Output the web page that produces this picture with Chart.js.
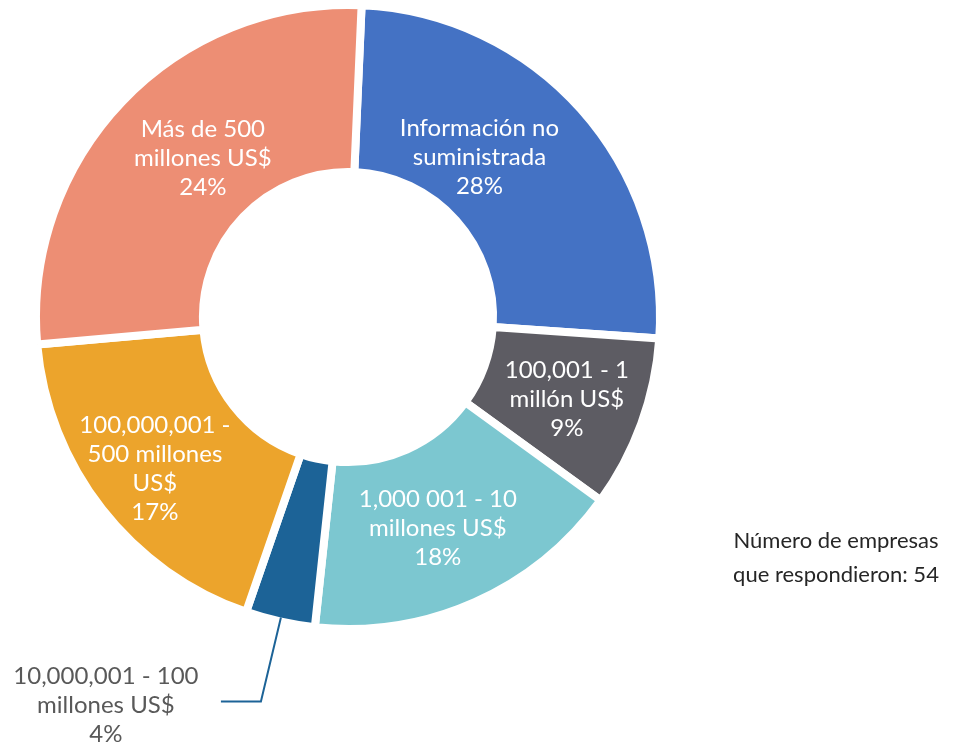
<!DOCTYPE html>
<html>
<head>
<meta charset="utf-8">
<script src="https://cdn.jsdelivr.net/npm/chart.js@4.4.1/dist/chart.umd.min.js"></script>
<style>
  html, body { margin: 0; padding: 0; background: #ffffff; overflow: hidden; }
  #wrap { position: absolute; left: 0; top: 0; width: 954px; height: 746px; }
</style>
</head>
<body>
<div id="wrap"><canvas id="chart" width="954" height="746"></canvas></div>
<script>
// ---- data ----
const categories = [
  'Información no suministrada',
  '100,001 - 1 millón US$',
  '1,000 001 - 10 millones US$',
  '10,000,001 - 100 millones US$',
  '100,000,001 - 500 millones US$',
  'Más de 500 millones US$'
];
// label text lines as printed on the chart
const labelLines = [
  ['Información no', 'suministrada'],
  ['100,001 - 1', 'millón US$'],
  ['1,000 001 - 10', 'millones US$'],
  ['10,000,001 - 100', 'millones US$'],
  ['100,000,001 -', '500 millones', 'US$'],
  ['Más de 500', 'millones US$']
];
// percentages as printed in the labels
const percentLabels = ['28%', '9%', '18%', '4%', '17%', '24%'];
const sliceShares = [25.4, 8.9, 16.7, 3.6, 18.3, 27.1];
const respondentsNote = ['Número de empresas', 'que respondieron: 54'];

const sliceColors = ['#4472C4', '#5D5C63', '#7CC7D0', '#1C6397', '#ECA42C', '#ED8E74'];

function drawLines(ctx, lines, cx, cy, lh) {
  const n = lines.length;
  lines.forEach((t, k) => {
    ctx.fillText(t, cx, cy + (k - (n - 1) / 2) * lh);
  });
}

const sliceLabelPlugin = {
  id: 'sliceLabels',
  afterDatasetsDraw(chart, args, opts) {
    const ctx = chart.ctx;
    const meta = chart.getDatasetMeta(0);
    const bw = chart.data.datasets[0].borderWidth;
    ctx.save();
    ctx.font = opts.font;
    ctx.textAlign = 'center';
    ctx.textBaseline = 'middle';
    meta.data.forEach((arc, i) => {
      const p = arc.getProps(['x', 'y', 'startAngle', 'endAngle', 'innerRadius', 'outerRadius'], true);
      const mid = (p.startAngle + p.endAngle) / 2;
      const lines = labelLines[i].concat([percentLabels[i]]);
      if (i === opts.outsideIndex) {
        const rO = p.outerRadius - bw / 2;
        const ax = p.x + Math.cos(mid) * rO;
        const ay = p.y + Math.sin(mid) * rO;
        const ex = ax + opts.leader.dx;
        const ey = ay + opts.leader.dy;
        const hx = ex - opts.leader.len;
        ctx.strokeStyle = sliceColors[i];
        ctx.lineWidth = 2;
        ctx.beginPath();
        ctx.moveTo(ax, ay);
        ctx.lineTo(ex, ey);
        ctx.lineTo(hx, ey);
        ctx.stroke();
        ctx.fillStyle = opts.outsideColor;
        drawLines(ctx, lines, hx - opts.leader.textGap, ey + opts.leader.textDy, opts.lineHeight);
      } else {
        const r = (p.innerRadius + p.outerRadius) / 2;
        const nd = opts.nudge[i] || [0, 0];
        const cx = p.x + Math.cos(mid) * r + nd[0];
        const cy = p.y + Math.sin(mid) * r + nd[1];
        ctx.fillStyle = opts.insideColor;
        drawLines(ctx, lines, cx, cy, opts.lineHeight);
      }
    });
    // respondents note
    ctx.fillStyle = opts.noteColor;
    ctx.font = opts.noteFont;
    drawLines(ctx, respondentsNote, opts.noteX, opts.noteY, opts.noteLineHeight);
    ctx.restore();
  }
};

new Chart(document.getElementById('chart'), {
  type: 'doughnut',
  data: {
    labels: categories,
    datasets: [{
      data: sliceShares,
      backgroundColor: sliceColors,
      borderColor: '#ffffff',
      borderWidth: 8,
      hoverOffset: 0
    }]
  },
  options: {
    responsive: false,
    devicePixelRatio: 1,
    animation: false,
    rotation: 2.5,
    radius: 312,
    cutout: '46.5%',
    layout: { padding: { left: 0, right: 258, top: 0, bottom: 112 } },
    plugins: {
      legend: { display: false },
      tooltip: { enabled: false },
      sliceLabels: {
        font: '24px Lato',
        lineHeight: 29,
        insideColor: '#ffffff',
        outsideColor: '#595959',
        outsideIndex: 3,
        nudge: { 0: [-39, -7], 1: [4, 4], 2: [-3, 2], 4: [-13, 11], 5: [20, -1] },
        leader: { dx: -20, dy: 84, len: 40, textGap: 115, textDy: 4 },
        noteColor: '#262626',
        noteFont: '22px Lato',
        noteX: 836,
        noteY: 558,
        noteLineHeight: 34
      }
    }
  },
  plugins: [sliceLabelPlugin]
});
</script>
</body>
</html>
